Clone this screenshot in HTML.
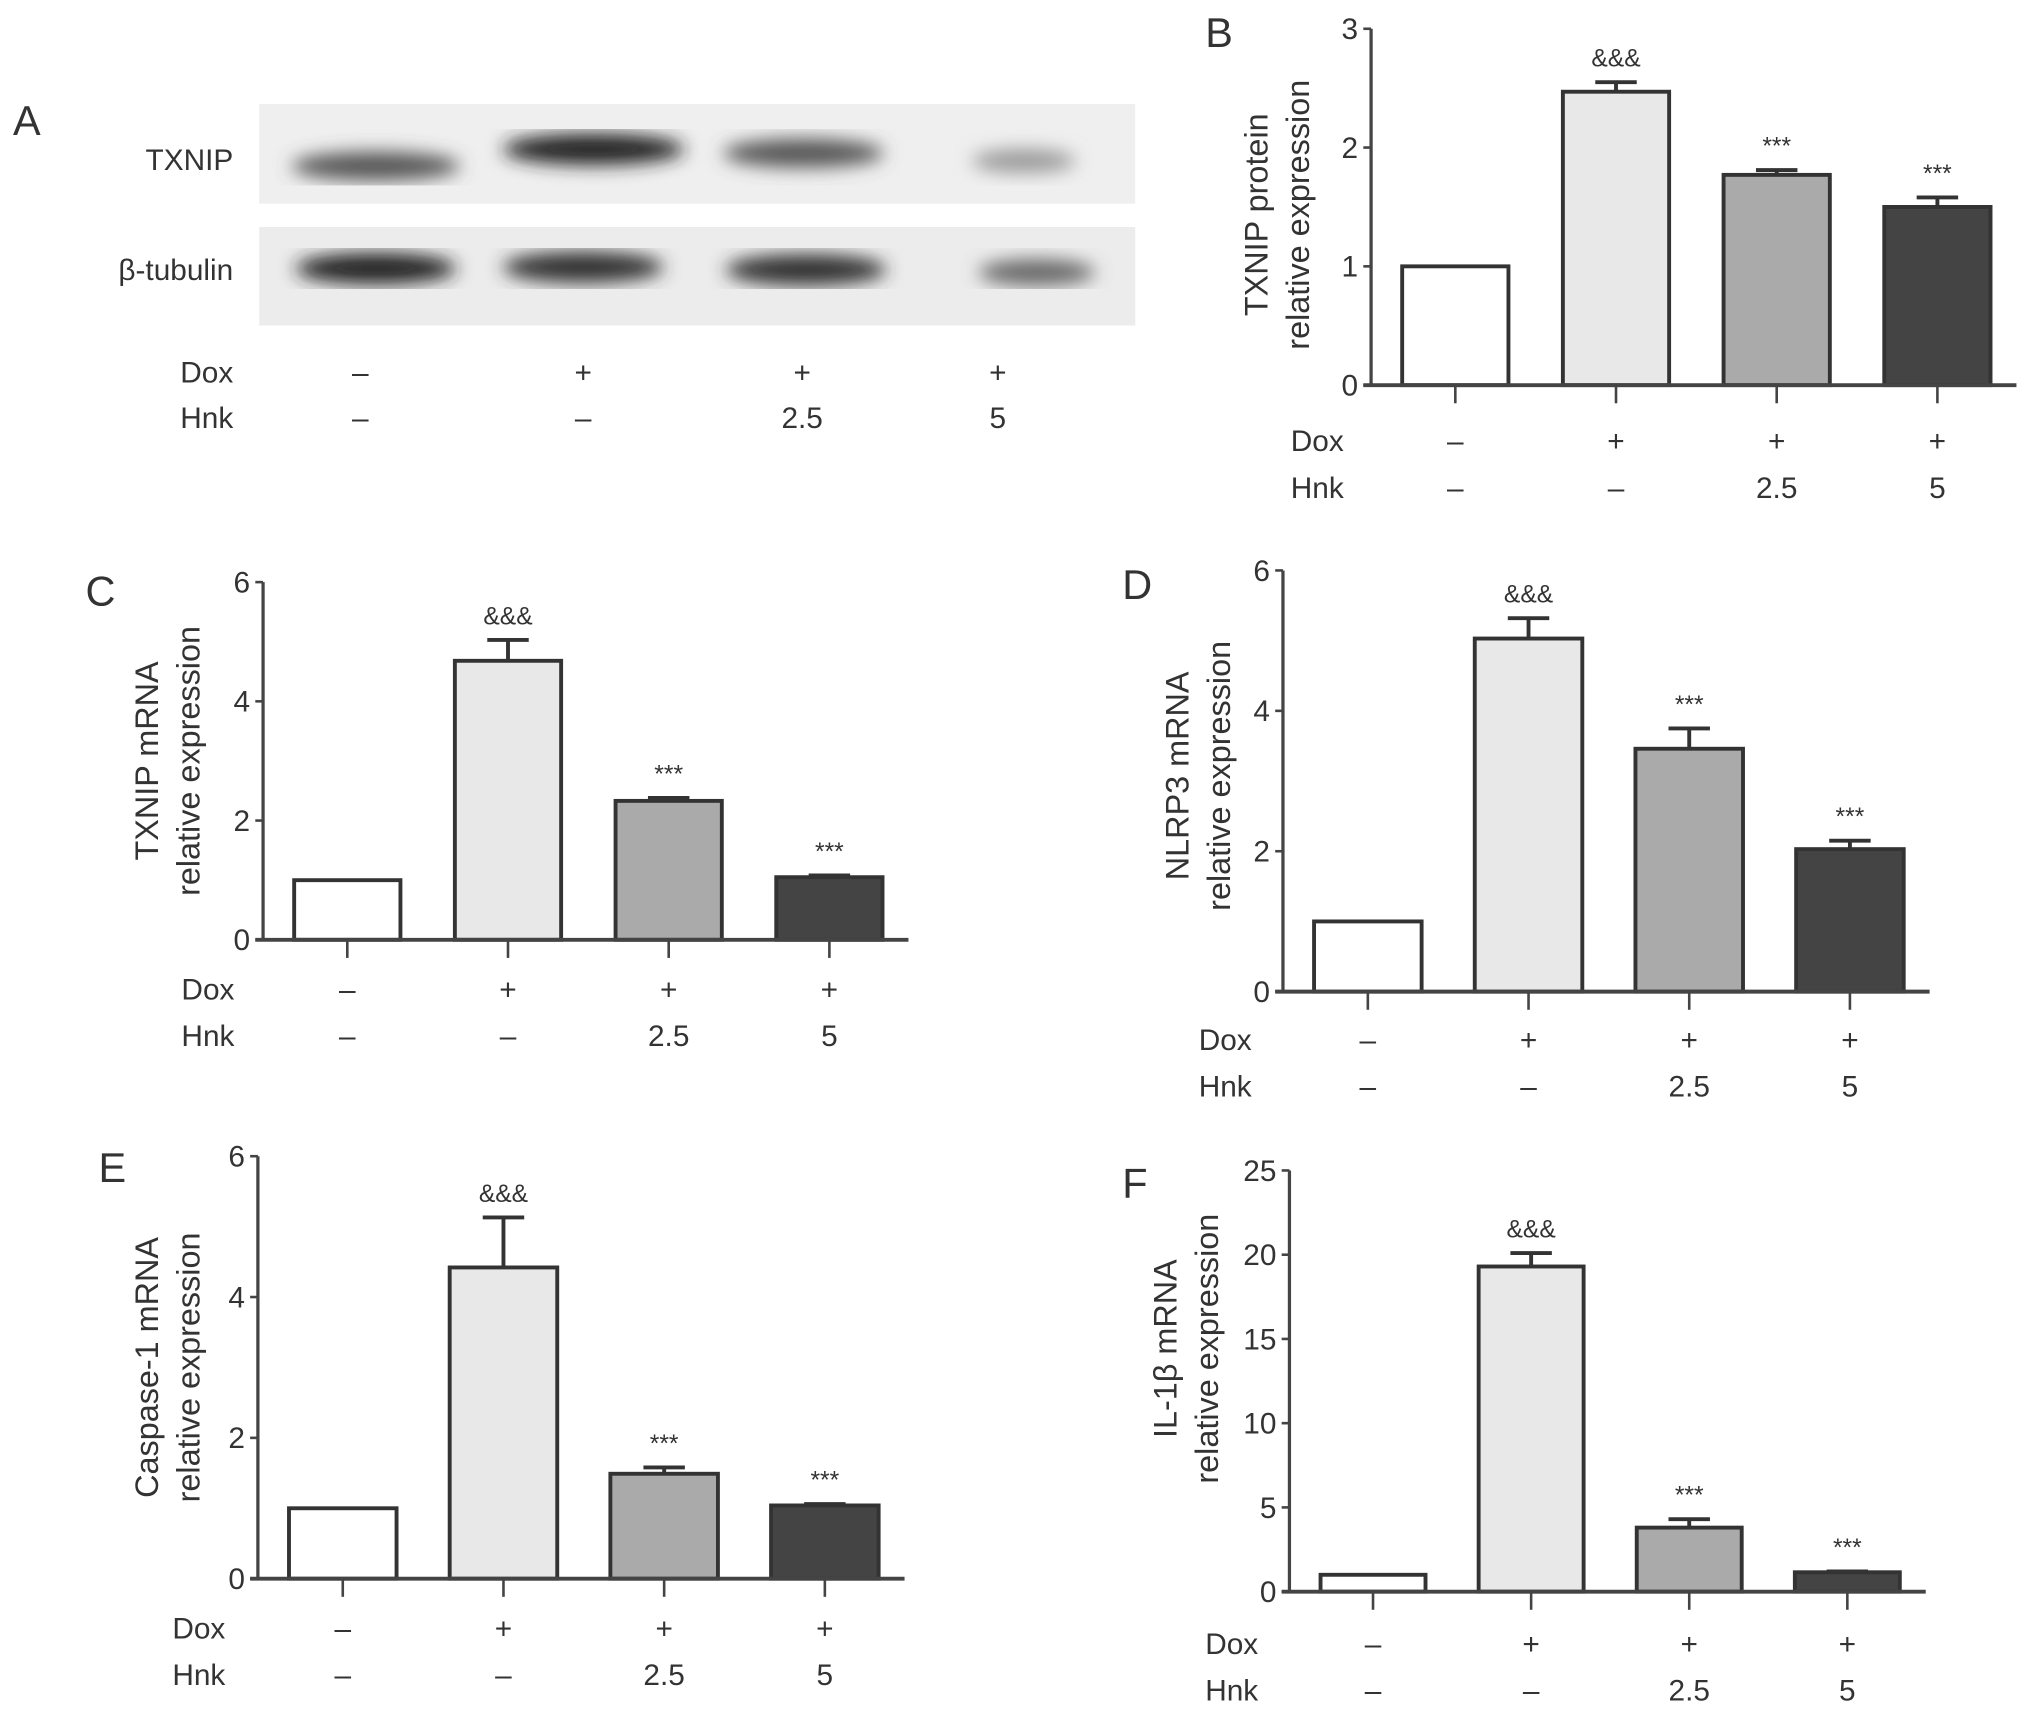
<!DOCTYPE html>
<html><head><meta charset="utf-8"><style>
html,body{margin:0;padding:0;background:#fff;}
svg{display:block;}
text{font-family:"Liberation Sans",sans-serif;fill:#333;}
</style></head><body>
<svg id="fig" width="2032" height="1715" viewBox="0 0 1568 1323" xmlns="http://www.w3.org/2000/svg">
<defs>
<filter id="blur6"><feGaussianBlur stdDeviation="7"/></filter>
</defs>
<text x="10" y="104" font-size="32">A</text>
<g>
<rect x="200" y="80" width="676" height="77" fill="#efefef"/>
<g filter="url(#blur6)">
<ellipse cx="290" cy="128" rx="65" ry="11" fill="#555"/>
<ellipse cx="458" cy="115" rx="70" ry="12" fill="#222"/>
<ellipse cx="620" cy="118" rx="62" ry="11" fill="#555"/>
<ellipse cx="790" cy="124" rx="40" ry="9" fill="#999"/>
</g>
<rect x="200" y="175" width="676" height="76" fill="#ececec"/>
<g filter="url(#blur6)">
<ellipse cx="290" cy="207" rx="62" ry="12" fill="#222"/>
<ellipse cx="450" cy="206" rx="62" ry="12" fill="#333"/>
<ellipse cx="622" cy="208" rx="62" ry="12" fill="#333"/>
<ellipse cx="800" cy="210" rx="45" ry="10" fill="#666"/>
</g>
<text x="180" y="131" font-size="23" text-anchor="end">TXNIP</text>
<text x="180" y="216" font-size="23" text-anchor="end">β-tubulin</text>
<text x="180" y="295" font-size="23" text-anchor="end">Dox</text>
<text x="180" y="330" font-size="23" text-anchor="end">Hnk</text>
<g font-size="23" text-anchor="middle">
<text x="278" y="295">–</text><text x="450" y="295">+</text><text x="619" y="295">+</text><text x="770" y="295">+</text>
<text x="278" y="330">–</text><text x="450" y="330">–</text><text x="619" y="330">2.5</text><text x="770" y="330">5</text>
</g>
</g>
<g id="charts"></g>
</svg>
<script>
const doxLabels = ["–","+","+","+"];
const hnkLabels = ["–","–","2.5","5"];
const sigLabels = ["","&&&","***","***"];

const bMeans = [1, 2.47, 1.77, 1.5];
const bErrs = [0, 0.08, 0.04, 0.08];
const bTicks = [0,1,2,3];

const cMeans = [1, 4.68, 2.33, 1.05];
const cErrs = [0, 0.35, 0.05, 0.03];
const cTicks = [0,2,4,6];

const dMeans = [1, 5.03, 3.46, 2.03];
const dErrs = [0, 0.29, 0.29, 0.12];
const dTicks = [0,2,4,6];

const eMeans = [1, 4.42, 1.49, 1.04];
const eErrs = [0, 0.71, 0.09, 0.02];
const eTicks = [0,2,4,6];

const fMeans = [1, 19.3, 3.8, 1.15];
const fErrs = [0, 0.8, 0.5, 0.05];
const fTicks = [0,5,10,15,20,25];

const fills = ["#ffffff","#e8e8e8","#aaaaaa","#444444"];
const NS = "http://www.w3.org/2000/svg";
const root = document.getElementById('charts');

function mk(tag, attrs, parent){
  const e = document.createElementNS(NS, tag);
  for (const k in attrs) e.setAttribute(k, attrs[k]);
  parent.appendChild(e);
  return e;
}

function chart(cfg){
  const g = mk('g', {}, root);
  
  
  const max = cfg.ticks[cfg.ticks.length-1];
  const y = v => cfg.y0 - (cfg.y0 - cfg.yTop) * v / max;
  const xs = i => cfg.x0 + 24 + i * cfg.step;
  const bw = cfg.bw;
  const lab = mk('text', {x: cfg.lx, y: cfg.ly, 'font-size': 32}, g);
  lab.textContent = cfg.id.toUpperCase();
  
  
  cfg.means.forEach((m, i) => {
    const x = xs(i);
    const err = cfg.errs[i];
    if (err > 0) {
      const eb = mk('path', {d: `M${x+bw/2} ${y(m)} V${y(m+err)} M${x+bw/2-16} ${y(m+err)} H${x+bw/2+16}`, stroke: '#333', 'stroke-width': 3, fill: 'none'}, g);
      
      
    }
    const r = mk('rect', {x: x, y: y(m), width: bw, height: cfg.y0 - y(m), fill: fills[i], stroke: '#333', 'stroke-width': 3}, g);
    
    
    if (sigLabels[i]) {
      const s = mk('text', {x: x + bw/2, y: y(m + err) - 12, 'font-size': 19, 'text-anchor': 'middle'}, g);
      s.textContent = sigLabels[i];
      
      
    }
    const t = mk('line', {x1: x + bw/2, x2: x + bw/2, y1: cfg.y0, y2: cfg.y0 + 14, stroke: '#444', 'stroke-width': 2}, g);
    
    
    const dx = mk('text', {x: x + bw/2, y: cfg.doxY, 'font-size': 23, 'text-anchor': 'middle'}, g);
    dx.textContent = doxLabels[i];
    
    
    const hx = mk('text', {x: x + bw/2, y: cfg.doxY + 36, 'font-size': 23, 'text-anchor': 'middle'}, g);
    hx.textContent = hnkLabels[i];
    
    
  });
  const ya = mk('line', {x1: cfg.x0, x2: cfg.x0, y1: cfg.y0, y2: cfg.yTop, stroke: '#444', 'stroke-width': 2.5}, g);
  
  
  const xa = mk('line', {x1: cfg.x0 - 6, x2: xs(3) + bw + 20, y1: cfg.y0, y2: cfg.y0, stroke: '#444', 'stroke-width': 3}, g);
  
  
  cfg.ticks.forEach(v => {
    const tl = mk('line', {x1: cfg.x0 - 6, x2: cfg.x0, y1: y(v), y2: y(v), stroke: '#444', 'stroke-width': 2}, g);
    
    
    const tt = mk('text', {x: cfg.x0 - 10, y: y(v) + 8, 'font-size': 23, 'text-anchor': 'end'}, g);
    tt.textContent = v;
    
    
  });
  const midY = (cfg.y0 + cfg.yTop) / 2;
  const t1 = mk('text', {x: 0, y: 0, 'font-size': 25, 'text-anchor': 'middle', transform: `translate(${cfg.titleX},${midY + cfg.titleDy}) rotate(-90)`}, g);
  t1.textContent = cfg.title;
  
  
  const t2 = mk('text', {x: 0, y: 0, 'font-size': 25, 'text-anchor': 'middle', transform: `translate(${cfg.titleX + 32},${midY + cfg.titleDy}) rotate(-90)`}, g);
  t2.textContent = 'relative expression';
  
  
  const dl = mk('text', {x: cfg.lblX, y: cfg.doxY, 'font-size': 23}, g);
  dl.textContent = 'Dox';
  
  
  const hl = mk('text', {x: cfg.lblX, y: cfg.doxY + 36, 'font-size': 23}, g);
  hl.textContent = 'Hnk';
  
  
}

chart({id:'b', means:bMeans, errs:bErrs, ticks:bTicks, x0:1058, y0:297, yTop:22, step:124, bw:82, lx:930, ly:36, doxY:348, lblX:996, title:'TXNIP protein', titleX:978, titleDy:6});
chart({id:'c', means:cMeans, errs:cErrs, ticks:cTicks, x0:203, y0:725, yTop:449, step:124, bw:82, lx:66, ly:467, doxY:771, lblX:140, title:'TXNIP mRNA', titleX:122, titleDy:0});
chart({id:'d', means:dMeans, errs:dErrs, ticks:dTicks, x0:990, y0:765, yTop:440, step:124, bw:83, lx:866, ly:462, doxY:810, lblX:925, title:'NLRP3 mRNA', titleX:917, titleDy:-4});
chart({id:'e', means:eMeans, errs:eErrs, ticks:eTicks, x0:199, y0:1218, yTop:892, step:124, bw:83, lx:76, ly:912, doxY:1264, lblX:133, title:'Caspase-1 mRNA', titleX:122, titleDy:0});
chart({id:'f', means:fMeans, errs:fErrs, ticks:fTicks, x0:995, y0:1228, yTop:903, step:122, bw:81, lx:866, ly:924, doxY:1276, lblX:930, title:'IL-1β mRNA', titleX:908, titleDy:-25});
</script>
</body></html>
